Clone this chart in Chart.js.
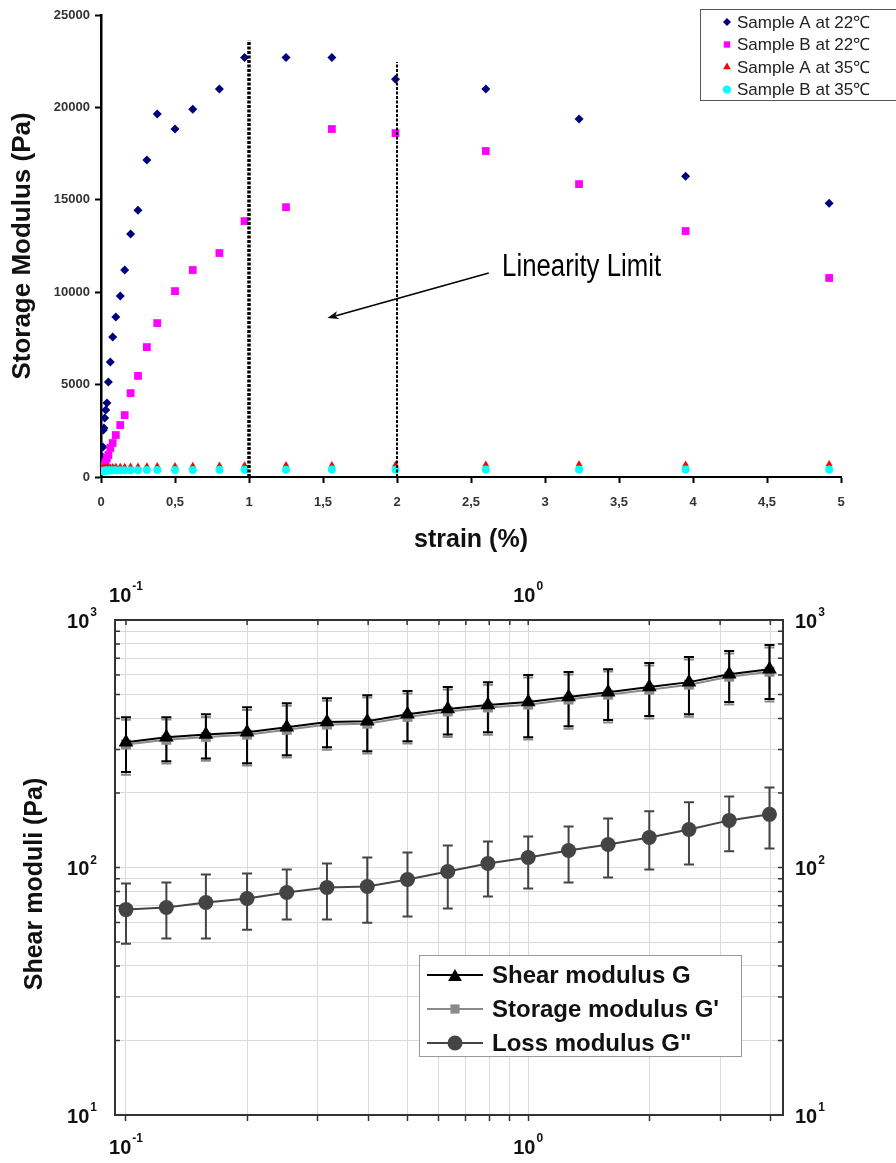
<!DOCTYPE html>
<html>
<head>
<meta charset="utf-8">
<script src="https://cdn.jsdelivr.net/npm/chart.js@4.4.0/dist/chart.umd.min.js"></script>
<style>
  html, body { margin: 0; padding: 0; background: #fff; }
  #wrap { position: relative; width: 896px; height: 1163px; }
  canvas { position: absolute; left: 0; }
</style>
</head>
<body>
<div id="wrap">
  <canvas id="strainChart" width="896" height="560" style="top:0"></canvas>
  <canvas id="moduliChart" width="896" height="603" style="top:560px"></canvas>
</div>
<script>
const FONT = "'Liberation Sans', Arial, sans-serif";

// --- top chart: amplitude sweep ---
const strain = [0.01, 0.013, 0.016, 0.02, 0.025, 0.032, 0.04, 0.05, 0.063, 0.079, 0.1, 0.13, 0.16, 0.2, 0.25, 0.31, 0.38, 0.5, 0.62, 0.8, 0.97, 1.25, 1.56, 1.99, 2.6, 3.23, 3.95, 4.92];
const sampleA22 = [1080, 1620, 2540, 2650, 3190, 3620, 4000, 5140, 6220, 7570, 8660, 9790, 11200, 13150, 14440, 17150, 19640, 18830, 19900, 20990, 22700, 22700, 22700, 21530, 20990, 19370, 16280, 14820];
const sampleB22 = [330, 380, 430, 540, 650, 810, 1030, 1190, 1570, 1840, 2270, 2810, 3350, 4540, 5470, 7030, 8330, 10060, 11200, 12120, 13850, 14600, 18830, 18610, 17640, 15850, 13310, 10770];
const sampleA35 = [470, 480, 480, 500, 510, 510, 520, 530, 530, 540, 550, 550, 560, 570, 570, 580, 590, 600, 610, 620, 630, 650, 650, 660, 670, 690, 680, 700];
const sampleB35 = [330, 330, 340, 340, 340, 350, 350, 350, 360, 360, 360, 360, 370, 370, 370, 380, 380, 380, 380, 390, 390, 390, 400, 390, 400, 410, 400, 400];

// --- bottom chart: frequency sweep ---
const freq = [0.1, 0.126, 0.158, 0.2, 0.251, 0.316, 0.398, 0.501, 0.631, 0.794, 1, 1.26, 1.58, 2, 2.51, 3.16, 3.98];
const shearG = [321, 336, 345, 352, 369, 387, 390, 416, 437, 453, 466, 488, 511, 536, 561, 604, 633];
const shearHigh = [405, 405, 416, 444, 461, 483, 497, 516, 536, 561, 599, 616, 633, 670, 708, 749, 793];
const shearLow = [243, 269, 276, 264, 284, 306, 295, 324, 345, 352, 336, 372, 394, 409, 416, 466, 479];
const storageG = [314, 328, 337, 344, 360, 378, 381, 406, 427, 443, 455, 477, 499, 523, 548, 590, 618];
const storageHigh = [395, 396, 406, 433, 450, 472, 486, 505, 524, 548, 586, 602, 619, 655, 692, 732, 775];
const storageLow = [237, 263, 270, 258, 278, 299, 289, 317, 337, 344, 329, 364, 385, 400, 407, 456, 468];
const lossG = [67.6, 68.9, 72.2, 74.9, 79.2, 83.0, 83.8, 89.4, 96.3, 103.8, 109.7, 117.1, 123.9, 132.2, 142.5, 155, 164];
const lossHigh = [86.1, 86.9, 93.7, 94.6, 98.2, 103.8, 109.7, 115, 122.7, 127.4, 133.5, 146.6, 157.9, 168.6, 183.4, 193.8, 210.7];
const lossLow = [49.2, 51.6, 51.6, 56.1, 61.6, 61.6, 59.8, 63.4, 68.3, 76.3, 82.3, 86.9, 91.2, 98.2, 102.8, 116.2, 119.4];

const zip = (xs, ys) => xs.map((x, i) => ({ x: x, y: ys[i] }));

function marker(ctx, style, x, y, r, color) {
  ctx.save();
  ctx.fillStyle = color;
  ctx.beginPath();
  if (style === 'rectRot') {
    ctx.moveTo(x, y - r); ctx.lineTo(x + r, y); ctx.lineTo(x, y + r); ctx.lineTo(x - r, y);
  } else if (style === 'rect') {
    const s = r * Math.SQRT1_2;
    ctx.rect(x - s, y - s, 2 * s, 2 * s);
  } else if (style === 'triangle') {
    ctx.moveTo(x, y - r); ctx.lineTo(x + r * 0.866, y + r * 0.5); ctx.lineTo(x - r * 0.866, y + r * 0.5);
  } else {
    ctx.arc(x, y, r, 0, Math.PI * 2);
  }
  ctx.closePath();
  ctx.fill();
  ctx.restore();
}

// dashed limit lines, arrow, label and the boxed legend
const strainDecor = {
  id: 'strainDecor',
  afterDatasetsDraw(chart) {
    const { ctx, scales: { x, y } } = chart;
    ctx.save();
    ctx.strokeStyle = '#000';
    ctx.setLineDash([3, 1.5]);
    [[1, 23640, 3.5], [2, 22450, 2]].forEach(([lx, top, w]) => {
      ctx.lineWidth = w;
      ctx.beginPath();
      ctx.moveTo(x.getPixelForValue(lx), y.getPixelForValue(0));
      ctx.lineTo(x.getPixelForValue(lx), y.getPixelForValue(top));
      ctx.stroke();
    });
    ctx.setLineDash([]);

    // arrow
    const x0 = x.getPixelForValue(2.62), y0 = y.getPixelForValue(11040);
    const x1 = x.getPixelForValue(1.53), y1 = y.getPixelForValue(8600);
    const ang = Math.atan2(y1 - y0, x1 - x0);
    ctx.lineWidth = 1.5;
    ctx.beginPath();
    ctx.moveTo(x0, y0);
    ctx.lineTo(x1 - Math.cos(ang) * 8, y1 - Math.sin(ang) * 8);
    ctx.stroke();
    ctx.fillStyle = '#000';
    ctx.beginPath();
    ctx.moveTo(x1, y1);
    ctx.lineTo(x1 - Math.cos(ang) * 11 - Math.sin(ang) * 4, y1 - Math.sin(ang) * 11 + Math.cos(ang) * 4);
    ctx.lineTo(x1 - Math.cos(ang) * 8, y1 - Math.sin(ang) * 8);
    ctx.lineTo(x1 - Math.cos(ang) * 11 + Math.sin(ang) * 4, y1 - Math.sin(ang) * 11 - Math.cos(ang) * 4);
    ctx.closePath();
    ctx.fill();

    // condensed label, squeezed to the width it has in the figure
    const label = 'Linearity Limit';
    ctx.font = '31px ' + FONT;
    const sx = 159 / ctx.measureText(label).width;
    ctx.translate(x.getPixelForValue(2.71), y.getPixelForValue(11360));
    ctx.scale(sx, 1);
    ctx.textAlign = 'left';
    ctx.textBaseline = 'middle';
    ctx.fillText(label, 0, 0);
    ctx.restore();
  },
  afterDraw(chart) {
    const ctx = chart.ctx;
    ctx.save();
    ctx.fillStyle = '#fff';
    ctx.fillRect(700, 9, 200, 91);
    ctx.strokeStyle = '#555';
    ctx.lineWidth = 1;
    ctx.strokeRect(700.5, 9.5, 200, 91);
    ctx.font = '17px ' + FONT;
    ctx.textAlign = 'left';
    ctx.textBaseline = 'middle';
    const sizes = [4, 4.5, 4.5, 4];
    chart.data.datasets.forEach((ds, i) => {
      const yy = 22 + i * 22.5;
      marker(ctx, ds.pointStyle, 727, yy, sizes[i], ds.backgroundColor);
      ctx.fillStyle = '#222';
      ctx.fillText(ds.label, 737, yy + 1);
    });
    ctx.restore();
  }
};

const tickFont = { family: FONT, size: 13, weight: 'bold' };

const strainChart = new Chart(document.getElementById('strainChart'), {
  type: 'scatter',
  data: {
    datasets: [
      { label: 'Sample A at 22℃', data: zip(strain, sampleA22), pointStyle: 'rectRot', pointRadius: 4.5, backgroundColor: '#00007f', borderColor: '#00007f', borderWidth: 0, order: 3 },
      { label: 'Sample B at 22℃', data: zip(strain, sampleB22), pointStyle: 'rect', pointRadius: 5.5, backgroundColor: '#ff00ff', borderColor: '#ff00ff', borderWidth: 0, order: 2 },
      { label: 'Sample A at 35℃', data: zip(strain, sampleA35), pointStyle: 'triangle', pointRadius: 4, backgroundColor: '#ff0000', borderColor: '#ff0000', borderWidth: 0, order: 1 },
      { label: 'Sample B at 35℃', data: zip(strain, sampleB35), pointStyle: 'circle', pointRadius: 4, backgroundColor: '#00ffff', borderColor: '#00ffff', borderWidth: 0, order: 0 },
    ]
  },
  options: {
    responsive: false,
    animation: false,
    devicePixelRatio: 1,
    layout: { padding: { top: 15, right: 55, left: 0, bottom: 0 } },
    plugins: { legend: { display: false }, tooltip: { enabled: false } },
    scales: {
      x: {
        type: 'linear', min: 0, max: 5,
        afterFit: s => { s.height = 83; },
        ticks: { stepSize: 0.5, padding: 12, color: '#333', font: tickFont, maxRotation: 0, callback: v => String(v).replace('.', ',') },
        grid: { drawOnChartArea: false, tickLength: 6, tickWidth: 2, tickColor: '#000' },
        border: { color: '#000', width: 2 },
        title: { display: true, text: 'strain (%)', color: '#111', font: { family: FONT, size: 25, weight: 'bold' }, padding: { top: 0, bottom: 5 } }
      },
      y: {
        type: 'linear', min: 0, max: 25000,
        afterFit: s => { s.width = 101; },
        ticks: { stepSize: 5000, padding: 5, color: '#333', font: tickFont, callback: v => String(v) },
        grid: { drawOnChartArea: false, tickLength: 6, tickWidth: 2, tickColor: '#000' },
        border: { color: '#000', width: 2.5 },
        title: { display: true, text: 'Storage Modulus (Pa)', color: '#111', font: { family: FONT, size: 26, weight: 'bold' }, padding: { top: 7, bottom: 0 } }
      }
    }
  },
  plugins: [strainDecor]
});

// --- bottom chart helpers ---
const isDecade = v => Math.abs(Math.log10(v) - Math.round(Math.log10(v))) < 1e-6;
const isNice = v => {
  const m = v / Math.pow(10, Math.floor(Math.log10(v) + 1e-9));
  return Math.abs(m - Math.round(m)) < 1e-6;
};

function drawPow(ctx, exp, x, y, align) {
  const base = '10', sup = String(exp);
  ctx.font = 'bold 20px ' + FONT;
  const wb = ctx.measureText(base).width;
  ctx.font = 'bold 12px ' + FONT;
  const ws = ctx.measureText(sup).width;
  let left = x - (wb + ws + 1) / 2;
  if (align === 'right') left = x - wb - ws - 1;
  if (align === 'left') left = x;
  ctx.textAlign = 'left';
  ctx.textBaseline = 'middle';
  ctx.font = 'bold 20px ' + FONT;
  ctx.fillText(base, left, y);
  ctx.font = 'bold 12px ' + FONT;
  ctx.fillText(sup, left + wb + 1, y - 9);
}

const moduliDecor = {
  id: 'moduliDecor',
  beforeDatasetsDraw(chart) {
    const { ctx, scales: { x, y } } = chart;
    ctx.save();
    ctx.lineWidth = 2;
    for (let d = chart.data.datasets.length - 1; d >= 0; d--) {
      const ds = chart.data.datasets[d];
      ctx.strokeStyle = ds.errColor;
      ds.data.forEach((p, i) => {
        const px = x.getPixelForValue(p.x);
        const hi = y.getPixelForValue(ds.errHigh[i]);
        const lo = y.getPixelForValue(ds.errLow[i]);
        ctx.beginPath();
        ctx.moveTo(px, hi); ctx.lineTo(px, lo);
        ctx.moveTo(px - 5, hi); ctx.lineTo(px + 5, hi);
        ctx.moveTo(px - 5, lo); ctx.lineTo(px + 5, lo);
        ctx.stroke();
      });
    }
    ctx.restore();
  },
  afterDraw(chart) {
    const { ctx, chartArea: a, scales: { x, x2, y, y2 } } = chart;
    ctx.save();
    // inward tick marks on top, left and right axes
    ctx.strokeStyle = '#333';
    ctx.lineWidth = 1.5;
    ctx.beginPath();
    x2.ticks.forEach(t => {
      if (!isNice(t.value)) return;
      const px = x2.getPixelForValue(t.value);
      ctx.moveTo(px, a.top); ctx.lineTo(px, a.top + 5);
    });
    y.ticks.forEach(t => {
      if (!isNice(t.value)) return;
      const py = y.getPixelForValue(t.value);
      ctx.moveTo(a.left, py); ctx.lineTo(a.left + 5, py);
      ctx.moveTo(a.right, py); ctx.lineTo(a.right - 5, py);
    });
    ctx.stroke();

    // power-of-ten labels
    ctx.fillStyle = '#111';
    x.ticks.forEach(t => {
      if (!isDecade(t.value)) return;
      const e = Math.round(Math.log10(t.value));
      const px = x.getPixelForValue(t.value);
      drawPow(ctx, e, px, a.bottom + 33, 'center');
      drawPow(ctx, e, px, a.top - 24, 'center');
    });
    y.ticks.forEach(t => {
      if (!isDecade(t.value)) return;
      const e = Math.round(Math.log10(t.value));
      const py = y.getPixelForValue(t.value) + 2;
      drawPow(ctx, e, a.left - 18, py, 'right');
      drawPow(ctx, e, a.right + 12, py, 'left');
    });

    // axis title
    ctx.save();
    ctx.translate(35, 324);
    ctx.rotate(-Math.PI / 2);
    ctx.font = 'bold 25px ' + FONT;
    ctx.textAlign = 'center';
    ctx.textBaseline = 'middle';
    ctx.fillText('Shear moduli (Pa)', 0, 0);
    ctx.restore();

    // legend
    ctx.fillStyle = '#fff';
    ctx.fillRect(419, 395, 323, 102);
    ctx.strokeStyle = '#999';
    ctx.lineWidth = 1;
    ctx.strokeRect(419.5, 395.5, 322, 101);
    const rowY = [415, 449, 483];
    const legR = [8, 6.5, 7.5];
    chart.data.datasets.forEach((ds, i) => {
      ctx.strokeStyle = ds.borderColor;
      ctx.lineWidth = 2;
      ctx.beginPath();
      ctx.moveTo(427, rowY[i]); ctx.lineTo(483, rowY[i]);
      ctx.stroke();
      marker(ctx, ds.pointStyle, 455, rowY[i] + (ds.pointStyle === 'triangle' ? 2 : 0), legR[i], ds.backgroundColor);
      ctx.fillStyle = '#111';
      ctx.font = 'bold 24px ' + FONT;
      ctx.textAlign = 'left';
      ctx.textBaseline = 'middle';
      ctx.fillText(ds.label, 492, rowY[i] + 1);
    });
    ctx.restore();
  }
};

const gridColor = c => (c.tick && isNice(c.tick.value)) ? '#dadada' : 'rgba(0,0,0,0)';
const blank = () => '';

const moduliChart = new Chart(document.getElementById('moduliChart'), {
  type: 'line',
  data: {
    datasets: [
      { label: 'Shear modulus G', data: zip(freq, shearG), errLow: shearLow, errHigh: shearHigh, errColor: '#000',
        borderColor: '#000', backgroundColor: '#000', borderWidth: 2, pointStyle: 'triangle', pointRadius: 8.5, pointBorderWidth: 0 },
      { label: "Storage modulus G'", data: zip(freq, storageG), errLow: storageLow, errHigh: storageHigh, errColor: '#8a8a8a',
        borderColor: '#8a8a8a', backgroundColor: '#8a8a8a', borderWidth: 2, pointStyle: 'rect', pointRadius: 7, pointBorderWidth: 0 },
      { label: 'Loss modulus G"', data: zip(freq, lossG), errLow: lossLow, errHigh: lossHigh, errColor: '#444',
        borderColor: '#444', backgroundColor: '#444', borderWidth: 2, pointStyle: 'circle', pointRadius: 7.5, pointBorderWidth: 0 },
    ]
  },
  options: {
    responsive: false,
    animation: false,
    devicePixelRatio: 1,
    layout: { padding: 0 },
    plugins: { legend: { display: false }, tooltip: { enabled: false } },
    scales: {
      x: {
        type: 'logarithmic', position: 'bottom', min: 0.0939, max: 4.3,
        afterFit: s => { s.height = 48; },
        ticks: { autoSkip: false, maxRotation: 0, callback: blank },
        grid: { color: gridColor, lineWidth: 1, drawTicks: true, tickLength: 6, tickWidth: 1.5, tickColor: c => (c.tick && isNice(c.tick.value)) ? '#333' : 'rgba(0,0,0,0)' },
        border: { color: '#333', width: 2 }
      },
      x2: {
        type: 'logarithmic', position: 'top', min: 0.0939, max: 4.3,
        afterFit: s => { s.height = 60; },
        ticks: { autoSkip: false, maxRotation: 0, callback: blank },
        grid: { drawOnChartArea: false, drawTicks: false },
        border: { color: '#333', width: 2 }
      },
      y: {
        type: 'logarithmic', position: 'left', min: 10, max: 1000,
        afterFit: s => { s.width = 115; },
        ticks: { autoSkip: false, callback: blank },
        grid: { color: gridColor, lineWidth: 1, drawTicks: false },
        border: { color: '#333', width: 2 }
      },
      y2: {
        type: 'logarithmic', position: 'right', min: 10, max: 1000,
        afterFit: s => { s.width = 113; },
        ticks: { autoSkip: false, callback: blank },
        grid: { drawOnChartArea: false, drawTicks: false },
        border: { color: '#333', width: 2 }
      }
    }
  },
  plugins: [moduliDecor]
});
</script>
</body>
</html>
